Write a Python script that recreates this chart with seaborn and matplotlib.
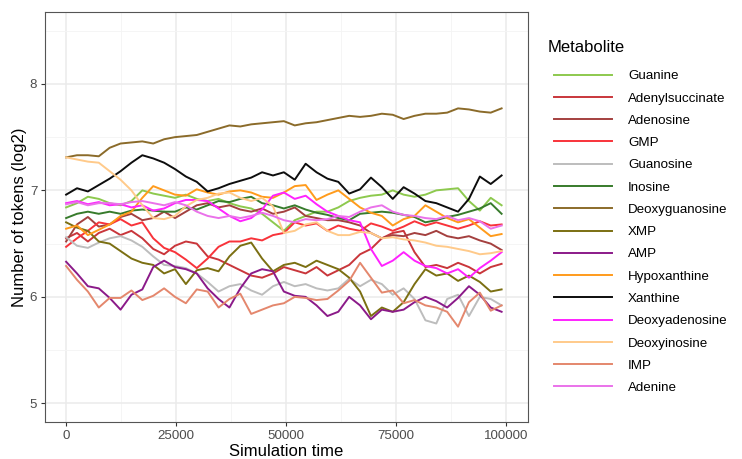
import numpy as np
import pandas as pd
import matplotlib
matplotlib.use("Agg")
import matplotlib.pyplot as plt
import seaborn as sns
from matplotlib.ticker import FixedLocator

# ---------------- data ----------------
time = np.linspace(0, 99000, 41)

metabolites = ["Guanine", "Adenylsuccinate", "Adenosine", "GMP", "Guanosine", "Inosine",
               "Deoxyguanosine", "XMP", "AMP", "Hypoxanthine", "Xanthine",
               "Deoxyadenosine", "Deoxyinosine", "IMP", "Adenine"]

colors = ["#8DC94E", "#C9363B", "#A4403F", "#F8333A", "#BDBDBD", "#377B2B",
          "#8B6B2A", "#7B6F12", "#8B1A89", "#FF9B1C", "#0D0D0D",
          "#FF22FF", "#FFCA8A", "#E4876D", "#EA72EA"]

guanine = [6.84, 6.88, 6.94, 6.92, 6.88, 6.86, 6.90, 7.00, 6.97, 6.95, 6.93, 6.96, 6.92, 6.90,
           6.92, 6.88, 6.85, 6.83, 6.78, 6.70, 6.62, 6.72, 6.76, 6.80, 6.80, 6.84, 6.90, 6.93,
           6.95, 6.96, 7.00, 6.96, 6.94, 6.96, 7.00, 7.01, 7.02, 6.90, 6.81, 6.93, 6.86]
adenylsuccinate = [6.55, 6.60, 6.52, 6.60, 6.64, 6.58, 6.62, 6.55, 6.45, 6.40, 6.48, 6.52, 6.50,
                   6.38, 6.35, 6.30, 6.25, 6.20, 6.18, 6.22, 6.28, 6.25, 6.22, 6.28, 6.20, 6.25,
                   6.30, 6.40, 6.45, 6.55, 6.60, 6.62, 6.42, 6.28, 6.30, 6.27, 6.32, 6.28, 6.22,
                   6.28, 6.31]
adenosine = [6.52, 6.68, 6.75, 6.66, 6.68, 6.75, 6.78, 6.72, 6.74, 6.80, 6.74, 6.80, 6.86, 6.88,
             6.84, 6.86, 6.82, 6.80, 6.83, 6.78, 6.80, 6.84, 6.76, 6.74, 6.72, 6.72, 6.70, 6.67,
             6.60, 6.55, 6.58, 6.57, 6.60, 6.58, 6.62, 6.57, 6.55, 6.57, 6.53, 6.50, 6.44]
gmp = [6.47, 6.55, 6.62, 6.70, 6.68, 6.73, 6.67, 6.70, 6.55, 6.46, 6.42, 6.35, 6.27, 6.36,
       6.47, 6.52, 6.52, 6.55, 6.53, 6.58, 6.60, 6.70, 6.67, 6.69, 6.62, 6.67, 6.64, 6.62,
       6.69, 6.66, 6.62, 6.66, 6.71, 6.67, 6.70, 6.67, 6.64, 6.67, 6.71, 6.67, 6.68]
guanosine = [6.56, 6.48, 6.46, 6.51, 6.55, 6.57, 6.53, 6.47, 6.38, 6.30, 6.29, 6.27, 6.22, 6.14,
             6.05, 6.10, 6.12, 6.06, 6.02, 6.10, 6.14, 6.10, 6.12, 6.08, 6.06, 6.08, 6.17, 6.10,
             6.16, 6.12, 6.02, 6.08, 5.98, 5.78, 5.75, 5.98, 6.02, 5.82, 6.00, 5.98, 5.92]
inosine = [6.74, 6.78, 6.80, 6.78, 6.80, 6.78, 6.81, 6.82, 6.81, 6.80, 6.80, 6.84, 6.82, 6.86,
           6.90, 6.89, 6.92, 6.94, 6.88, 6.86, 6.83, 6.86, 6.82, 6.79, 6.77, 6.74, 6.72, 6.78,
           6.79, 6.80, 6.79, 6.77, 6.75, 6.70, 6.72, 6.75, 6.77, 6.80, 6.83, 6.88, 6.78]
deoxyguanosine = [7.31, 7.33, 7.33, 7.32, 7.40, 7.44, 7.45, 7.46, 7.44, 7.48, 7.50, 7.51, 7.52,
                  7.55, 7.58, 7.61, 7.60, 7.62, 7.63, 7.64, 7.65, 7.61, 7.63, 7.64, 7.66, 7.68,
                  7.70, 7.69, 7.70, 7.72, 7.71, 7.67, 7.70, 7.72, 7.72, 7.73, 7.77, 7.76, 7.74,
                  7.73, 7.77]
xmp = [6.70, 6.65, 6.62, 6.52, 6.50, 6.43, 6.36, 6.32, 6.30, 6.22, 6.26, 6.12, 6.25, 6.27,
       6.24, 6.38, 6.48, 6.51, 6.36, 6.24, 6.30, 6.32, 6.28, 6.34, 6.30, 6.26, 6.18, 6.05,
       5.82, 5.90, 5.86, 5.95, 6.12, 6.26, 6.20, 6.22, 6.15, 6.20, 6.14, 6.05, 6.07]
amp = [6.33, 6.22, 6.10, 6.08, 5.99, 5.88, 6.02, 6.07, 6.28, 6.34, 6.28, 6.26, 6.22, 6.08,
       5.98, 5.90, 6.08, 6.22, 6.26, 6.24, 6.05, 6.01, 6.00, 5.92, 5.82, 5.86, 6.00, 5.92,
       5.79, 5.88, 5.86, 5.88, 5.95, 6.00, 5.96, 5.90, 5.99, 6.10, 6.02, 5.90, 5.86]
hypoxanthine = [6.64, 6.67, 6.58, 6.63, 6.68, 6.76, 6.80, 6.93, 7.04, 7.00, 6.96, 6.95, 7.01,
                6.98, 6.96, 6.99, 7.00, 6.98, 6.94, 6.93, 6.98, 7.04, 7.05, 6.91, 6.96, 7.00,
                6.92, 6.84, 6.79, 6.76, 6.67, 6.73, 6.76, 6.86, 6.80, 6.74, 6.70, 6.73, 6.65,
                6.57, 6.59]
xanthine = [6.96, 7.02, 6.99, 7.05, 7.11, 7.18, 7.26, 7.33, 7.30, 7.26, 7.20, 7.13, 7.08, 6.99,
            7.02, 7.06, 7.09, 7.12, 7.17, 7.14, 7.17, 7.10, 7.25, 7.17, 7.11, 7.08, 6.97, 7.01,
            7.12, 7.03, 6.92, 7.03, 6.97, 6.90, 6.88, 6.84, 6.80, 6.92, 7.13, 7.06, 7.14]
deoxyadenosine = [6.88, 6.90, 6.87, 6.89, 6.86, 6.87, 6.84, 6.86, 6.81, 6.83, 6.88, 6.91, 6.91,
                  6.90, 6.83, 6.76, 6.71, 6.74, 6.82, 6.95, 6.98, 6.92, 6.95, 6.87, 6.80, 6.76,
                  6.72, 6.70, 6.45, 6.29, 6.34, 6.42, 6.34, 6.29, 6.27, 6.22, 6.26, 6.18, 6.27,
                  6.34, 6.42]
deoxyinosine = [7.31, 7.29, 7.27, 7.26, 7.18, 7.10, 7.00, 6.86, 6.74, 6.73, 6.76, 6.85, 6.91,
                6.93, 6.97, 6.98, 6.93, 6.90, 6.93, 6.85, 6.60, 6.62, 6.68, 6.70, 6.62, 6.58,
                6.58, 6.61, 6.60, 6.55, 6.56, 6.54, 6.53, 6.51, 6.48, 6.47, 6.45, 6.43, 6.40,
                6.41, 6.43]
imp = [6.29, 6.16, 6.05, 5.90, 5.99, 5.99, 6.06, 5.97, 6.01, 6.08, 6.00, 5.94, 6.07, 6.05,
       5.90, 5.98, 6.03, 5.84, 5.88, 5.92, 5.94, 6.00, 5.99, 5.97, 5.98, 6.06, 6.15, 6.32,
       6.18, 6.04, 6.06, 5.94, 5.97, 5.92, 5.90, 5.86, 5.72, 5.95, 6.04, 5.87, 5.92]
adenine = [6.87, 6.89, 6.86, 6.88, 6.88, 6.87, 6.89, 6.90, 6.88, 6.86, 6.89, 6.86, 6.80, 6.76,
           6.74, 6.76, 6.74, 6.76, 6.79, 6.76, 6.72, 6.70, 6.73, 6.72, 6.73, 6.76, 6.75, 6.80,
           6.84, 6.86, 6.80, 6.77, 6.76, 6.74, 6.73, 6.76, 6.72, 6.74, 6.71, 6.64, 6.67]

series = [guanine, adenylsuccinate, adenosine, gmp, guanosine, inosine, deoxyguanosine, xmp,
          amp, hypoxanthine, xanthine, deoxyadenosine, deoxyinosine, imp, adenine]

x_ticks = [0, 25000, 50000, 75000, 100000]
y_ticks = [5, 6, 7, 8]

# ---------------- long table ----------------
df = pd.concat([pd.DataFrame({"time": time, "tokens": vals, "Metabolite": name})
                for name, vals in zip(metabolites, series)], ignore_index=True)
palette = dict(zip(metabolites, colors))

plt.rcParams["font.family"] = ["Liberation Sans", "DejaVu Sans"]

# ---------------- figure ----------------
W, H = 742, 459
fig = plt.figure(figsize=(W / 100, H / 100), dpi=100)
fig.patch.set_facecolor("white")
ax = fig.add_axes([45 / W, 1 - 422 / H, (528 - 45) / W, (422 - 12) / H])

sns.lineplot(data=df, x="time", y="tokens", hue="Metabolite", hue_order=metabolites,
             palette=palette, linewidth=1.4, ax=ax, legend=True, estimator=None,
             sort=False)

ax.set_xlim(-4800, 105000)
ax.set_ylim(4.825, 8.675)
ax.xaxis.set_major_locator(FixedLocator(x_ticks))
ax.yaxis.set_major_locator(FixedLocator(y_ticks))
ax.xaxis.set_minor_locator(FixedLocator([12500, 37500, 62500, 87500]))
ax.yaxis.set_minor_locator(FixedLocator([5.5, 6.5, 7.5, 8.5]))
ax.set_xticklabels([str(v) for v in x_ticks])
ax.set_yticklabels([str(v) for v in y_ticks])

ax.set_facecolor("white")
ax.grid(True, which="major", color="#EBEBEB", linewidth=1.1)
ax.grid(True, which="minor", color="#F4F4F4", linewidth=0.6)
ax.set_axisbelow(True)
for s in ax.spines.values():
    s.set_color("#555555")
    s.set_linewidth(0.8)
ax.tick_params(which="major", length=3, width=0.8, color="#333333",
               labelcolor="#4D4D4D", labelsize=9.6, pad=2.5)
ax.tick_params(which="minor", length=0)

ax.set_xlabel("Simulation time", fontsize=12, color="black", labelpad=2)
ax.set_ylabel("Number of tokens (log2)", fontsize=12, color="black", labelpad=2)

handles, labels = ax.get_legend_handles_labels()
leg = ax.legend(handles, labels, loc="upper left",
                bbox_to_anchor=(554 / W, 1 - 70 / H), bbox_transform=fig.transFigure,
                frameon=False, fontsize=9.6,
                handlelength=4.36, handletextpad=1.2, labelspacing=0.745,
                borderaxespad=0, borderpad=0)
for h in leg.get_lines():
    h.set_linewidth(1.4)
fig.text(548 / W, 1 - 47 / H, "Metabolite", fontsize=12, color="black",
         ha="left", va="center")

fig.savefig("out.png", dpi=100, facecolor="white")
